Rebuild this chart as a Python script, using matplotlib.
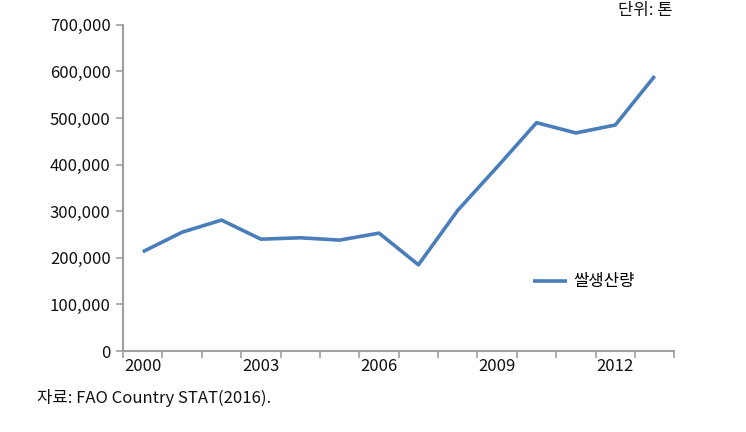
import matplotlib.pyplot as plt
import numpy as np
from matplotlib.ticker import FuncFormatter, FixedLocator

plt.rcParams["font.family"] = ["Noto Sans CJK KR", "DejaVu Sans"]

# rice production, tonnes
years = [2000, 2001, 2002, 2003, 2004, 2005, 2006, 2007, 2008, 2009, 2010, 2011, 2012, 2013]
rice = [213000, 255000, 281000, 240000, 243000, 238000, 253000, 185000, 302000, 395000, 490000, 468000, 485000, 590000]
label_years = [2000, 2003, 2006, 2009, 2012]
series_name = "쌀생산량"

fig = plt.figure(figsize=(7.46, 4.32), dpi=100)
ax = fig.add_axes([0.165, 0.1875, 0.739, 0.755])

line_color = "#4a7ebb"
axis_color = "#a0a0a0"
fs = 12

ax.plot(years, rice, color=line_color, lw=2.6, solid_capstyle="butt", label=series_name)

ax.set_xlim(years[0] - 0.5, years[-1] + 0.5)
ax.set_ylim(0, 700000)
ax.set_yticks(np.arange(0, 700001, 100000))
ax.yaxis.set_major_formatter(FuncFormatter(lambda v, p: "{:,.0f}".format(v)))

# category axis: marks between years, labels on years
ax.xaxis.set_major_locator(FixedLocator(label_years))
ax.xaxis.set_minor_locator(FixedLocator(np.arange(years[0] - 0.5, years[-1] + 0.6, 1)))
ax.tick_params(axis="x", which="major", length=0, pad=5)
ax.tick_params(axis="x", which="minor", length=5, width=1.2, color=axis_color)
ax.tick_params(axis="y", length=5, width=1.2, color=axis_color, pad=4)
ax.tick_params(labelsize=fs, labelcolor="#111111")

for s in ["top", "right"]:
    ax.spines[s].set_visible(False)
for s in ["left", "bottom"]:
    ax.spines[s].set_color(axis_color)
    ax.spines[s].set_linewidth(1.5)

leg = ax.legend(loc="center left", bbox_to_anchor=(0.744, 0.212), frameon=False,
                fontsize=fs, handlelength=2.0, handletextpad=0.4,
                borderpad=0, borderaxespad=0)

fig.text(0.901, 0.975, "단위: 톤", ha="right", va="center", fontsize=fs, color="#111111")
fig.text(0.05, 0.078, "자료: FAO Country STAT(2016).", ha="left", va="center", fontsize=fs, color="#111111")

fig.savefig("out.png", dpi=100)
